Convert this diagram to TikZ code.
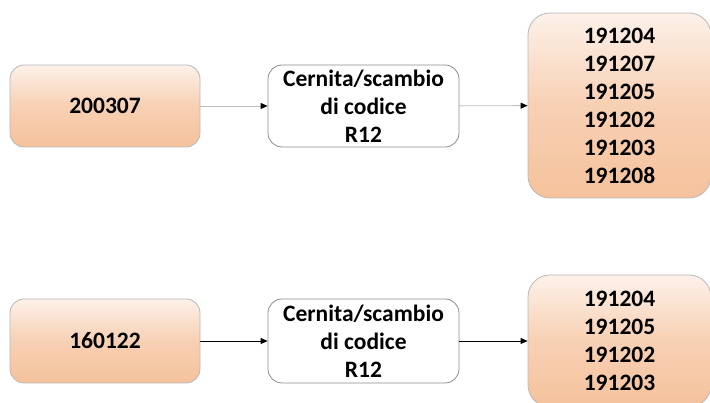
\documentclass[tikz,border=0pt]{standalone}
\usepackage{fontspec}
\setmainfont{Carlito}
\usetikzlibrary{arrows.meta}
\definecolor{peachtop}{HTML}{FDF1EA}
\definecolor{peachbot}{HTML}{F5C29C}
\definecolor{boxedge}{HTML}{B8B8B8}
\definecolor{procedge}{HTML}{8C8C8C}
\definecolor{lightline}{HTML}{BEBEBE}
\tikzset{
  codebox/.style={draw=boxedge, line width=0.8pt, top color=peachtop, bottom color=peachbot, middle color=peachbot!70!peachtop, shading angle=0, rounded corners=14pt, inner sep=0pt, align=center, font=\fontsize{23.5}{28}\selectfont\bfseries},
  outbox/.style={codebox, rounded corners=22pt},
  procbox/.style={draw=procedge, line width=0.8pt, fill=white, rounded corners=14pt, inner sep=0pt, align=center, font=\fontsize{23.5}{28}\selectfont\bfseries},
  flowgray/.style={draw=lightline, line width=0.9pt, -{Triangle[length=7pt,width=6pt,color=black]}},
  flowblack/.style={draw=black, line width=0.8pt, -{Triangle[length=7pt,width=6pt,color=black]}},
}
\begin{document}
\begin{tikzpicture}[x=1pt,y=1pt]
\useasboundingbox (0,0) rectangle (710,403);
\clip (0,0) rectangle (710,403);
\node[codebox, minimum width=190pt, minimum height=82pt] (a1) at (105,297) {200307};
\node[procbox, minimum width=191pt, minimum height=82pt] (p1) at (363.5,297) {Cernita/scambio\\di codice\\R12};
\node[outbox, minimum width=183pt, minimum height=185pt] (r1) at (619.5,297.5) {191204\\191207\\191205\\191202\\191203\\191208};
\node[codebox, minimum width=190pt, minimum height=84pt] (a2) at (105,62) {160122};
\node[procbox, minimum width=191pt, minimum height=84pt] (p2) at (363.5,62) {Cernita/scambio\\di codice\\R12};
\node[outbox, minimum width=183pt, minimum height=132pt] (r2) at (619.5,62) {191204\\191205\\191202\\191203};
\draw[flowgray] (a1) -- (p1);
\draw[flowgray] (p1) -- (r1);
\draw[flowblack] (a2) -- (p2);
\draw[flowblack] (p2) -- (r2);
\end{tikzpicture}
\end{document}
